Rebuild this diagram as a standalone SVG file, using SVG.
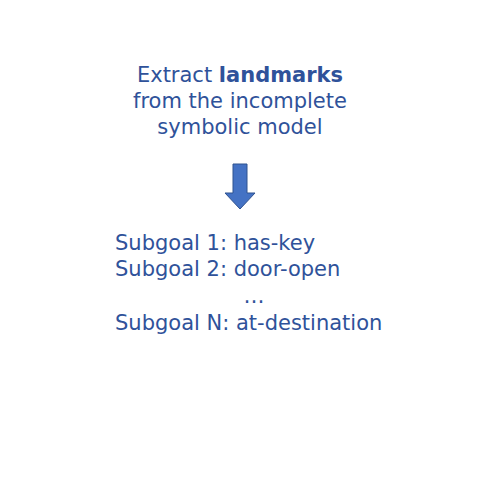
<svg xmlns="http://www.w3.org/2000/svg" width="480" height="480" viewBox="0 0 480 480">
<style>
.t{font-family:"DejaVu Sans","Noto Sans",sans-serif;font-size:21px;fill:#2F529A}
.b{font-weight:bold}
</style>
<rect width="480" height="480" fill="#fff"/>
<g id="title">
<text class="t" x="240" y="82" text-anchor="middle">Extract <tspan class="b">landmarks</tspan></text>
<text class="t" x="240" y="108" text-anchor="middle">from the incomplete</text>
<text class="t" x="240" y="134" text-anchor="middle">symbolic model</text>
</g>
<g id="connectors">
<polygon points="233,164 247,164 247,193 255,193 240,209 225,193 233,193" fill="#4472C4" stroke="#2F528F" stroke-width="1"/>
</g>
<g id="subgoals">
<text class="t" x="115" y="250">Subgoal 1: has-key</text>
<text class="t" x="115" y="276">Subgoal 2: door-open</text>
<text class="t" x="254" y="303" text-anchor="middle">…</text>
<text class="t" x="115" y="330">Subgoal N: at-destination</text>
</g>
</svg>
